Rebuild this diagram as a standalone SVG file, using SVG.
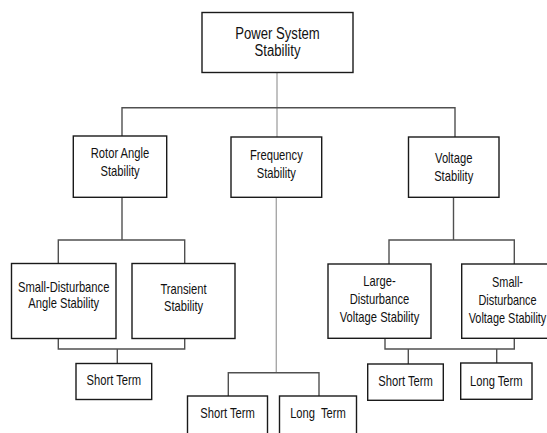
<svg xmlns="http://www.w3.org/2000/svg" width="547" height="433" viewBox="0 0 547 433">
<style>
rect.b{fill:#fff;stroke:#1a1a1a;stroke-width:1.4}
text{font-family:"Liberation Sans",Arial,sans-serif;font-size:14px;fill:#111;text-anchor:middle}
text.big{font-size:16px}
.c path{fill:none;stroke:#505050;stroke-width:1.4}
.c path.g{stroke:#a8a8a8}
</style>
<rect width="547" height="433" fill="#fff"/>
<g class="c" id="connectors">
<path class="g" d="M277 72.5V137"/>
<path class="g" d="M276.3 197.3V372.7"/>
<path d="M122 136V107.7H455V137"/>
<path d="M122 197.3V240"/>
<path d="M58.3 263.5V240H184.7V263.5"/>
<path d="M58.3 338.5V349H184.7V338.5"/>
<path d="M117.3 349V363.5"/>
<path d="M228.3 396V372.7H319V396"/>
<path d="M453.5 197.3V240"/>
<path d="M389 264V240H514.3V264"/>
<path d="M385 338.3V349H514.3V338.3"/>
<path d="M408.3 349V364"/>
<path d="M496.7 349V363"/>
</g>
<g id="power-system-stability">
<rect class="b" x="202" y="12.5" width="151" height="60"/>
<text class="big" transform="translate(277.5 0) scale(0.82 1)"><tspan x="0" y="39">Power System</tspan><tspan x="0" y="56">Stability</tspan></text>
</g>
<g id="rotor-angle-stability">
<rect class="b" x="73.3" y="136" width="93.4" height="61.3"/>
<text transform="translate(120 0) scale(0.8 1)"><tspan x="0" y="158.5">Rotor Angle</tspan><tspan x="0" y="176.5">Stability</tspan></text>
</g>
<g id="frequency-stability">
<rect class="b" x="231" y="137" width="90.7" height="60.3"/>
<text transform="translate(276.3 0) scale(0.8 1)"><tspan x="0" y="160.5">Frequency</tspan><tspan x="0" y="178">Stability</tspan></text>
</g>
<g id="voltage-stability">
<rect class="b" x="408.5" y="137" width="90.5" height="60.3"/>
<text transform="translate(453.7 0) scale(0.8 1)"><tspan x="0" y="163">Voltage</tspan><tspan x="0" y="181.5">Stability</tspan></text>
</g>
<g id="small-disturbance-angle-stability">
<rect class="b" x="11.5" y="263.5" width="104.5" height="75"/>
<text transform="translate(63.7 0) scale(0.8 1)"><tspan x="0" y="292">Small-Disturbance</tspan><tspan x="0" y="308.5">Angle Stability</tspan></text>
</g>
<g id="transient-stability">
<rect class="b" x="132" y="263.5" width="103" height="75"/>
<text transform="translate(183.5 0) scale(0.8 1)"><tspan x="0" y="294">Transient</tspan><tspan x="0" y="311">Stability</tspan></text>
</g>
<g id="angle-short-term">
<rect class="b" x="76" y="363.5" width="75.7" height="36"/>
<text transform="translate(113.8 0) scale(0.8 1)"><tspan x="0" y="385">Short Term</tspan></text>
</g>
<g id="frequency-short-term">
<rect class="b" x="187.5" y="396" width="80" height="45"/>
<text transform="translate(227.5 0) scale(0.8 1)"><tspan x="0" y="418">Short Term</tspan></text>
</g>
<g id="frequency-long-term">
<rect class="b" x="279.5" y="396" width="77" height="45"/>
<text xml:space="preserve" transform="translate(318 0) scale(0.8 1)"><tspan x="0" y="418">Long  Term</tspan></text>
</g>
<g id="large-disturbance-voltage-stability">
<rect class="b" x="328" y="264" width="103" height="74.3"/>
<text transform="translate(379.5 0) scale(0.8 1)"><tspan x="0" y="286">Large-</tspan><tspan x="0" y="304">Disturbance</tspan><tspan x="0" y="322">Voltage Stability</tspan></text>
</g>
<g id="small-disturbance-voltage-stability">
<rect class="b" x="461.7" y="264" width="95" height="74.3"/>
<text transform="translate(507.5 0) scale(0.78 1)"><tspan x="0" y="287">Small-</tspan><tspan x="0" y="305">Disturbance</tspan><tspan x="0" y="323">Voltage Stability</tspan></text>
</g>
<g id="voltage-short-term">
<rect class="b" x="367.7" y="364" width="75.6" height="36.3"/>
<text transform="translate(405.5 0) scale(0.8 1)"><tspan x="0" y="386">Short Term</tspan></text>
</g>
<g id="voltage-long-term">
<rect class="b" x="460.7" y="363" width="71.3" height="36.3"/>
<text transform="translate(496.3 0) scale(0.8 1)"><tspan x="0" y="386">Long Term</tspan></text>
</g>
</svg>
